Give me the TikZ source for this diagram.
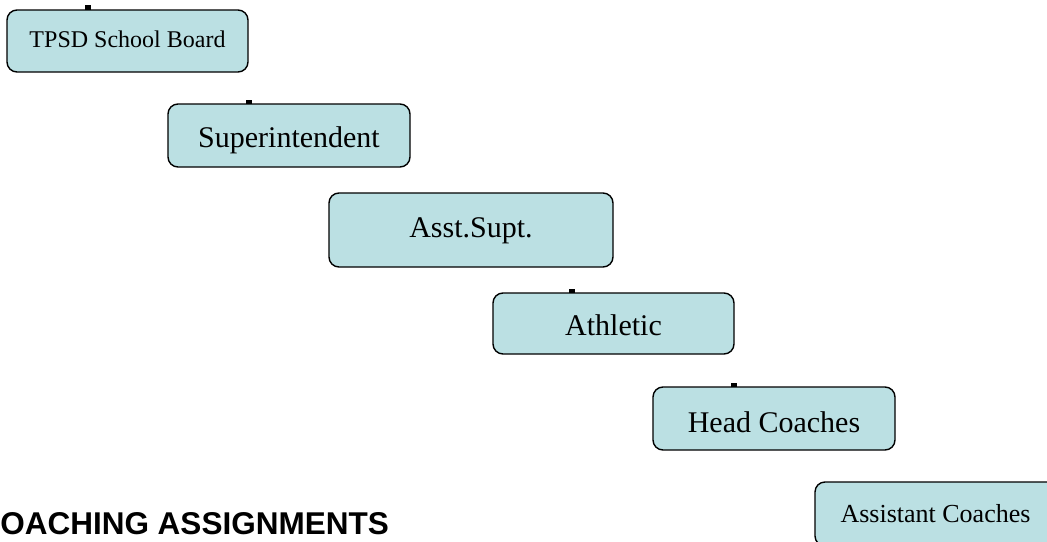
\documentclass[tikz,border=0pt]{standalone}
\usepackage{fontspec}
\setmainfont{Liberation Serif}
\setsansfont{Liberation Sans}
\definecolor{boxfill}{RGB}{187,224,227}
\begin{document}
\begin{tikzpicture}[x=1pt,y=-1pt,
  orgbox/.style={draw=black,line width=1.4pt,fill=boxfill,rounded corners=10pt},
  lbl/.style={anchor=base,inner sep=0pt,font=\fontsize{#1}{#1}\selectfont},
  stub/.style={fill=black}]
\useasboundingbox (0,0) rectangle (1047,541);
% boxes
\draw[orgbox] (7,10) rectangle (248,72);
\draw[orgbox] (168,104) rectangle (410,167);
\draw[orgbox] (329,193) rectangle (613,267);
\draw[orgbox] (493,293) rectangle (734,354);
\draw[orgbox] (653,387) rectangle (895,450);
\draw[orgbox] (815,482) rectangle (1058,546);
% stubs
\fill[stub] (85,5) rectangle (91,10);
\fill[stub] (246,100) rectangle (252,104);
\fill[stub] (569,289) rectangle (575,293);
\fill[stub] (731,383) rectangle (737,387);
% labels
\node[lbl=24] (board) at (127.5,47) {TPSD School Board};
\node[lbl=30] (supt) at (289,147.5) {Superintendent};
\node[lbl=30] (asst) at (471,237.5) {Asst.Supt.};
\node[lbl=30] (ath) at (613.5,335.5) {Athletic};
\node[lbl=30] (head) at (774,432.5) {Head Coaches};
\node[lbl=26] (assc) at (935.5,522) {Assistant Coaches};
\node[anchor=base east,inner sep=0pt,font=\sffamily\bfseries\fontsize{31.5}{31.5}\selectfont] (title) at (389,534) {OACHING ASSIGNMENTS};
\end{tikzpicture}
\end{document}
